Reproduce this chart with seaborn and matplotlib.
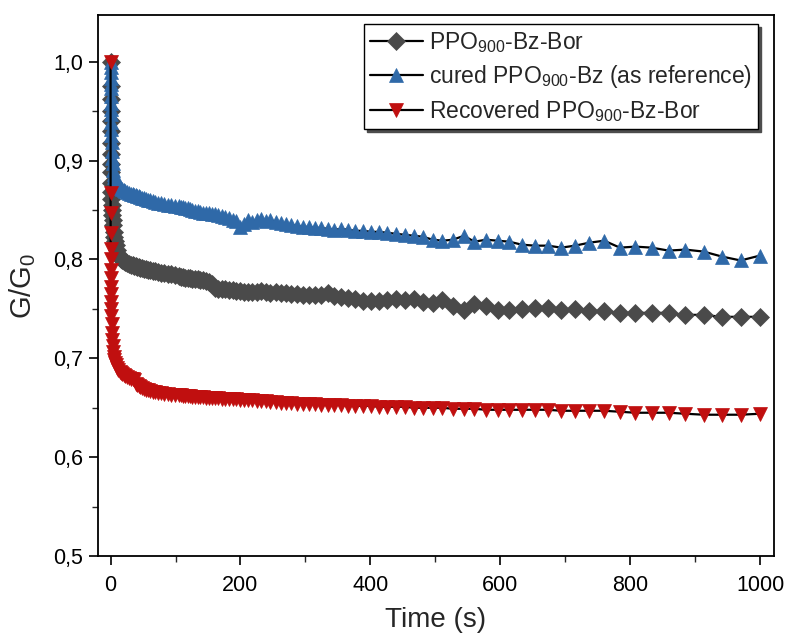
import matplotlib
matplotlib.use("Agg")
import matplotlib.pyplot as plt
from matplotlib.ticker import MultipleLocator, FixedLocator, FixedFormatter
import seaborn as sns
import pandas as pd

# ---------------- data ----------------
time_s = [0, 0.02, 0.05, 0.1, 0.15, 0.2, 0.3, 0.4, 0.5, 0.6, 0.8, 1.0, 1.2, 1.5, 2, 2.5, 3, 4, 5, 6,
          7, 8, 10, 12, 14, 16, 18, 20, 22, 25, 28,
          32, 34, 36, 39, 41, 44, 46, 49, 52, 54, 57, 61, 65, 69, 73, 78, 83, 88, 93, 99,
          105, 109, 112, 115, 119, 123, 126, 130, 134, 138, 143, 147, 152, 156, 161, 166, 171, 176,
          182, 188, 193, 199, 205, 212, 218, 225, 232, 239, 246, 254, 262, 270, 278, 287, 296, 305,
          314, 324, 334, 344, 355, 366, 377, 389, 401, 413, 426, 439,
          453, 467, 481, 496, 511, 527, 544, 560, 578, 596, 614, 633, 653, 673, 694, 715, 737, 760,
          784, 808, 833, 859, 885, 913, 941, 970, 1000]

ppo_bz_bor = [1.000, 0.975, 0.962, 0.950, 0.940, 0.930, 0.918, 0.907, 0.897, 0.889, 0.877, 0.868, 0.861,
              0.855, 0.850, 0.845, 0.840, 0.835, 0.828, 0.823, 0.819, 0.815, 0.810, 0.806, 0.803, 0.801,
              0.799, 0.798, 0.797, 0.796, 0.795,
              0.794, 0.794, 0.793, 0.793, 0.792, 0.792, 0.791, 0.791, 0.790, 0.790, 0.789, 0.789, 0.788,
              0.788, 0.787, 0.786, 0.786, 0.785, 0.785, 0.784,
              0.783, 0.782, 0.782, 0.781, 0.781, 0.781, 0.780, 0.780, 0.780, 0.779, 0.779, 0.778, 0.777,
              0.775, 0.771, 0.770, 0.770, 0.770, 0.769, 0.769, 0.768, 0.768, 0.767, 0.767, 0.767, 0.767,
              0.768, 0.767, 0.766, 0.767, 0.766, 0.766, 0.765, 0.765, 0.764, 0.764, 0.764, 0.764, 0.766,
              0.763, 0.762, 0.761, 0.760, 0.758, 0.758, 0.758, 0.759, 0.760,
              0.759, 0.760, 0.757, 0.756, 0.759, 0.753, 0.749, 0.755, 0.753, 0.749, 0.749, 0.750, 0.751,
              0.751, 0.749, 0.750, 0.748, 0.748, 0.746, 0.746, 0.746, 0.746, 0.744, 0.744, 0.742, 0.742,
              0.742]

cured_ppo_bz = [1.000, 0.995, 0.990, 0.984, 0.978, 0.973, 0.965, 0.958, 0.952, 0.947, 0.939, 0.932, 0.926,
                0.919, 0.910, 0.903, 0.898, 0.891, 0.886, 0.883, 0.880, 0.878, 0.876, 0.874, 0.873, 0.872,
                0.871, 0.870, 0.869, 0.868, 0.867,
                0.866, 0.866, 0.865, 0.865, 0.864, 0.864, 0.863, 0.862, 0.862, 0.861, 0.860, 0.860, 0.859,
                0.858, 0.857, 0.857, 0.856, 0.855, 0.855, 0.854,
                0.854, 0.853, 0.853, 0.852, 0.852, 0.851, 0.850, 0.849, 0.849, 0.848, 0.847, 0.847, 0.847,
                0.846, 0.846, 0.845, 0.844, 0.843, 0.842, 0.840, 0.839, 0.833, 0.836, 0.840, 0.838, 0.840,
                0.841, 0.839, 0.840, 0.838, 0.837, 0.836, 0.835, 0.834, 0.833, 0.833, 0.832, 0.832, 0.831,
                0.830, 0.831, 0.830, 0.829, 0.829, 0.828, 0.828, 0.827, 0.826,
                0.825, 0.824, 0.823, 0.820, 0.819, 0.820, 0.824, 0.818, 0.820, 0.819, 0.818, 0.815, 0.814,
                0.814, 0.812, 0.814, 0.817, 0.819, 0.812, 0.813, 0.812, 0.809, 0.810, 0.808, 0.803, 0.799,
                0.804]

recovered_ppo_bz_bor = [1.000, 0.867, 0.847, 0.827, 0.811, 0.801, 0.789, 0.781, 0.772, 0.765, 0.757, 0.750,
                        0.743, 0.735, 0.726, 0.719, 0.713, 0.706, 0.701, 0.698, 0.695, 0.693, 0.690, 0.688,
                        0.686, 0.685, 0.684, 0.683, 0.682, 0.681, 0.680,
                        0.679, 0.679, 0.678, 0.674, 0.673, 0.672, 0.671, 0.670, 0.669, 0.668, 0.668, 0.667,
                        0.666, 0.666, 0.665, 0.665, 0.664, 0.664, 0.663, 0.663,
                        0.663, 0.663, 0.662, 0.662, 0.662, 0.662, 0.661, 0.661, 0.661, 0.661, 0.661, 0.660,
                        0.660, 0.660, 0.660, 0.660, 0.659, 0.659, 0.659, 0.659, 0.659, 0.658, 0.658, 0.658,
                        0.658, 0.657, 0.657, 0.657, 0.656, 0.656, 0.655, 0.655, 0.655, 0.654, 0.654, 0.654,
                        0.654, 0.653, 0.653, 0.653, 0.653, 0.652, 0.652, 0.652, 0.652, 0.651, 0.651, 0.651,
                        0.651, 0.650, 0.650, 0.650, 0.650, 0.649, 0.649, 0.649, 0.648, 0.648, 0.648, 0.648,
                        0.648, 0.648, 0.647, 0.647, 0.647, 0.647, 0.646, 0.645, 0.645, 0.645, 0.644, 0.643,
                        0.643, 0.643, 0.644]

series_labels = ["PPO$_{900}$-Bz-Bor",
                 "cured PPO$_{900}$-Bz (as reference)",
                 "Recovered PPO$_{900}$-Bz-Bor"]
y_tick_values = [0.5, 0.6, 0.7, 0.8, 0.9, 1.0]
y_tick_labels = ["0,5", "0,6", "0,7", "0,8", "0,9", "1,0"]
x_tick_values = [0, 200, 400, 600, 800, 1000]

# ---------------- style ----------------
sns.set_theme(style="ticks")
plt.rcParams["font.family"] = ["Liberation Sans", "DejaVu Sans"]
plt.rcParams["mathtext.default"] = "regular"
plt.rcParams["axes.linewidth"] = 1.3

fig = plt.figure(figsize=(7.87, 6.37), dpi=100)
ax = fig.add_axes([0.124, 0.127, 0.860, 0.849])

styles = [
    dict(marker="D", mfc="#4a4a4a", ms=8.8),
    dict(marker="^", mfc="#2f69a8", ms=9.8),
    dict(marker="v", mfc="#c00f0f", ms=9.8),
]
ys = [ppo_bz_bor, cured_ppo_bz, recovered_ppo_bz_bor]

for y, lab, st in zip(ys, series_labels, styles):
    df = pd.DataFrame({"t": time_s, "g": y})
    sns.lineplot(data=df, x="t", y="g", ax=ax, color="black", linewidth=1.6,
                 marker=st["marker"], markersize=st["ms"], markerfacecolor=st["mfc"],
                 markeredgecolor=st["mfc"], markeredgewidth=0.5, label=lab,
                 estimator=None, sort=False)

ax.set_xlim(-20, 1022)
ax.set_ylim(0.5, 1.047)

ax.xaxis.set_major_locator(FixedLocator(x_tick_values))
ax.xaxis.set_minor_locator(MultipleLocator(100))
ax.yaxis.set_major_locator(FixedLocator(y_tick_values))
ax.yaxis.set_major_formatter(FixedFormatter(y_tick_labels))
ax.yaxis.set_minor_locator(MultipleLocator(0.05))

ax.tick_params(axis="both", which="major", direction="out", length=6.5, width=1.2,
               labelsize=15.5, colors="black", bottom=True, left=True, top=False, right=False)
ax.tick_params(axis="x", which="major", pad=7)
ax.tick_params(axis="y", which="major", pad=4)
ax.tick_params(axis="both", which="minor", direction="out", length=4.5, width=1.0,
               bottom=True, left=True, top=False, right=False)
for sp in ax.spines.values():
    sp.set_visible(True)
    sp.set_color("black")
    sp.set_linewidth(1.3)

ax.set_xlabel("Time (s)", fontsize=20, labelpad=8)
ax.set_ylabel("G/G$_0$", fontsize=21, labelpad=11)

leg = ax.legend(loc="upper right", bbox_to_anchor=(0.976, 0.984), fontsize=16.5,
                frameon=True, fancybox=False, edgecolor="black",
                shadow={"color": "0.3", "alpha": 1.0},
                handlelength=2.3, handletextpad=0.3, borderpad=0.25, labelspacing=0.35,
                borderaxespad=0.0)
leg.get_frame().set_linewidth(1.0)

fig.savefig("out.png", dpi=100)
